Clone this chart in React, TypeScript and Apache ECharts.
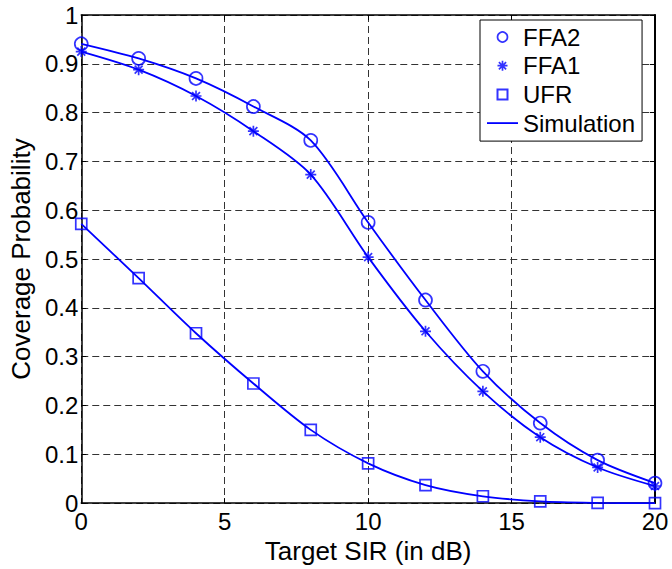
import React, { useEffect, useRef } from "react";
import * as echarts from "echarts";

const sirDb = [0, 2, 4, 6, 8, 10, 12, 14, 16, 18, 20];
const ffa2 = [0.941, 0.911, 0.87, 0.8125, 0.743, 0.575, 0.416, 0.27, 0.164, 0.088, 0.041];
const ffa1 = [0.925, 0.888, 0.834, 0.762, 0.673, 0.504, 0.352, 0.229, 0.135, 0.073, 0.035];
const ufr = [0.572, 0.461, 0.348, 0.245, 0.15, 0.0815, 0.037, 0.014, 0.0035, 0.0005, 0.0];
const simFfa2 = [0.941, 0.911, 0.87, 0.8125, 0.743, 0.575, 0.416, 0.27, 0.164, 0.088, 0.041];
const simFfa1 = [0.925, 0.888, 0.834, 0.762, 0.673, 0.504, 0.352, 0.229, 0.135, 0.073, 0.035];
const simUfr = [0.572, 0.461, 0.348, 0.245, 0.15, 0.0815, 0.037, 0.014, 0.0035, 0.0005, 0.0];
const legendNames = ["FFA2", "FFA1", "UFR", "Simulation"];

const BLUE = "#0000ff";
const FONT = "'Liberation Sans', Arial, Helvetica, sans-serif";
const ASTERISK = "path://M0,-1V1M-1,0H1M-0.72,-0.72L0.72,0.72M-0.72,0.72L0.72,-0.72";
const SQUARE = "path://M0,0H10V10H0Z";
const LINE_ICON = "path://M0,0H31V1.8H0Z";

const pairs = (ys: number[]) => sirDb.map((x, i) => [x, ys[i]]);

export default function App() {
  const ref = useRef<HTMLDivElement>(null);
  useEffect(() => {
    if (!ref.current) return;
    const chart = echarts.init(ref.current, null, { renderer: "svg" });
    const markerStyle = { color: "none", borderColor: BLUE, borderWidth: 1.7 };
    const simLine = (ys: number[]) => ({
      type: "line",
      name: "Simulation",
      data: pairs(ys),
      smooth: 0.3,
      symbol: "none",
      showSymbol: false,
      lineStyle: { color: BLUE, width: 1.8 },
      itemStyle: { color: BLUE },
      z: 2,
    });
    const markers = (name: string, ys: number[], symbol: string, size: number) => ({
      type: "scatter",
      name,
      data: pairs(ys),
      symbol,
      symbolSize: size,
      itemStyle: markerStyle,
      clip: false,
      z: 3,
    });
    chart.setOption({
      animation: false,
      backgroundColor: "#fff",
      textStyle: { fontFamily: FONT },
      grid: { left: 80, right: 17, top: 15, bottom: 51, containLabel: false },
      legend: {
        orient: "vertical",
        left: 480,
        top: 20,
        padding: [5, 7, 6, 7],
        itemWidth: 31,
        itemHeight: 10,
        itemGap: 4.7,
        backgroundColor: "#fff",
        borderColor: "#000",
        borderWidth: 1,
        borderRadius: 0,
        selectedMode: false,
        textStyle: { fontFamily: FONT, fontSize: 24, color: "#000", lineHeight: 24 },
        data: [
          { name: legendNames[0], icon: "circle", itemStyle: markerStyle },
          { name: legendNames[1], icon: ASTERISK, itemStyle: markerStyle },
          { name: legendNames[2], icon: SQUARE, itemStyle: { color: "none", borderColor: BLUE, borderWidth: 2 } },
          { name: legendNames[3], icon: LINE_ICON, itemStyle: { color: BLUE, borderWidth: 0 } },
        ],
      },
      xAxis: [
        {
          type: "value",
          min: 0,
          max: 20,
          interval: 5,
          name: "Target SIR (in dB)",
          nameLocation: "middle",
          nameGap: 23,
          nameTextStyle: { fontFamily: FONT, fontSize: 26, color: "#000" },
          axisLine: { show: true, lineStyle: { color: "#000", width: 1.5 } },
          axisTick: { show: true, inside: true, length: 5, lineStyle: { color: "#000" } },
          axisLabel: { fontFamily: FONT, fontSize: 24, color: "#000", margin: 6 },
          splitLine: { show: true, lineStyle: { color: "#333", type: [7, 4], width: 1 } },
        },
        {
          type: "value",
          position: "top",
          min: 0,
          max: 20,
          interval: 5,
          axisLine: { show: true, onZero: false, lineStyle: { color: "#000", width: 1.5 } },
          axisTick: { show: true, inside: true, length: 5, lineStyle: { color: "#000" } },
          axisLabel: { show: false },
          splitLine: { show: false },
        },
      ],
      yAxis: [
        {
          type: "value",
          min: 0,
          max: 1,
          interval: 0.1,
          name: "Coverage Probability",
          nameLocation: "middle",
          nameGap: 45,
          nameTextStyle: { fontFamily: FONT, fontSize: 26, color: "#000" },
          axisLine: { show: true, lineStyle: { color: "#000", width: 1.5 } },
          axisTick: { show: true, inside: true, length: 5, lineStyle: { color: "#000" } },
          axisLabel: { fontFamily: FONT, fontSize: 24, color: "#000", margin: 3 },
          splitLine: { show: true, lineStyle: { color: "#333", type: [7, 4], width: 1 } },
        },
        {
          type: "value",
          position: "right",
          min: 0,
          max: 1,
          interval: 0.1,
          axisLine: { show: true, onZero: false, lineStyle: { color: "#000", width: 2 } },
          axisTick: { show: true, inside: true, length: 5, lineStyle: { color: "#000" } },
          axisLabel: { show: false },
          splitLine: { show: false },
        },
      ],
      series: [
        markers(legendNames[0], ffa2, "circle", 13),
        markers(legendNames[1], ffa1, ASTERISK, 11),
        markers(legendNames[2], ufr, "rect", 11),
        simLine(simFfa2),
        simLine(simFfa1),
        simLine(simUfr),
      ],
    });
    return () => chart.dispose();
  }, []);
  return (
    <div
      ref={ref}
      style={{ position: "fixed", left: 0, top: 0, width: 672, height: 569 }}
    />
  );
}
